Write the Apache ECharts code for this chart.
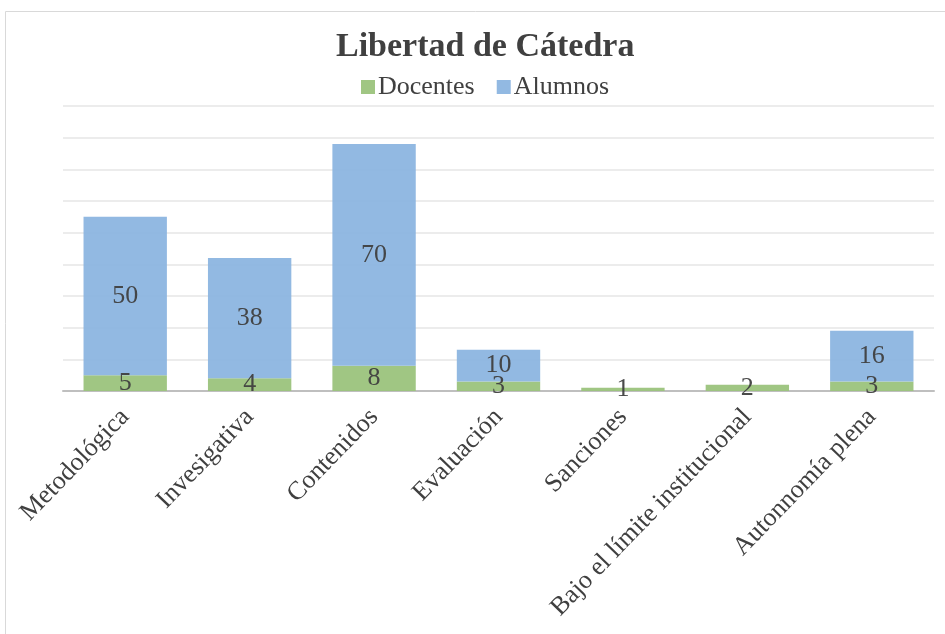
<!DOCTYPE html>
<html><head><meta charset="utf-8">
<script src="https://cdn.jsdelivr.net/npm/echarts@6/dist/echarts.min.js"></script>
<style>html,body{margin:0;padding:0;background:#fff}#c{width:945px;height:634px}</style>
</head><body><div id="c"></div>
<script>
const categories = ['Metodológica','Invesigativa','Contenidos','Evaluación','Sanciones','Bajo el límite institucional','Autonnomía plena'];
const docentes = [5,4,8,3,1,2,3];
const alumnos = [50,38,70,10,0,0,16];
const seriesNames = ['Docentes','Alumnos'];

const FONT = '"Liberation Serif","Times New Roman",serif';
const chart = echarts.init(document.getElementById('c'));
const lbl = {
  show: true, position: 'inside', color: '#404040', fontFamily: FONT, fontSize: 26,
  formatter: p => p.value ? p.value : ''
};
chart.setOption({
  animation: false,
  graphic: [{type:'rect', shape:{x:5.5,y:11.5,width:1000,height:700}, style:{fill:'none', stroke:'#d9d9d9', lineWidth:1}, silent:true, z:-1}],
  title: {
    text: 'Libertad de Cátedra', left: 331, top: 25,
    textStyle: {fontFamily: FONT, fontSize: 34, fontWeight: 'bold', color: '#404040'}
  },
  legend: {
    data: seriesNames, left: 356, top: 69, itemWidth: 14, itemHeight: 14, itemGap: 22,
    icon: 'rect',
    textStyle: {fontFamily: FONT, fontSize: 26, color: '#404040', padding:[0,0,0,-2]}
  },
  grid: {left: 63, right: 11, top: 106, bottom: 243, containLabel: false},
  xAxis: {
    type: 'category', data: categories,
    axisLine: {lineStyle: {color: '#bfbfbf', width: 2}},
    axisTick: {show: false},
    axisLabel: {rotate: 46, interval: 0, fontFamily: FONT, fontSize: 26, color: '#404040', margin: 22}
  },
  yAxis: {
    type: 'value', min: 0, max: 90, interval: 10,
    axisLabel: {show: false}, axisLine: {show: false}, axisTick: {show: false},
    splitLine: {lineStyle: {color: '#e6e6e6', width: 1.5}}
  },
  series: [
    {name: seriesNames[0], type: 'bar', stack: 's', data: docentes, barCategoryGap: '33%',
     itemStyle: {color: '#9bc37c', opacity: 0.95}, label: lbl},
    {name: seriesNames[1], type: 'bar', stack: 's', data: alumnos,
     itemStyle: {color: '#8cb5e0', opacity: 0.95}, label: lbl}
  ]
});
</script></body></html>
